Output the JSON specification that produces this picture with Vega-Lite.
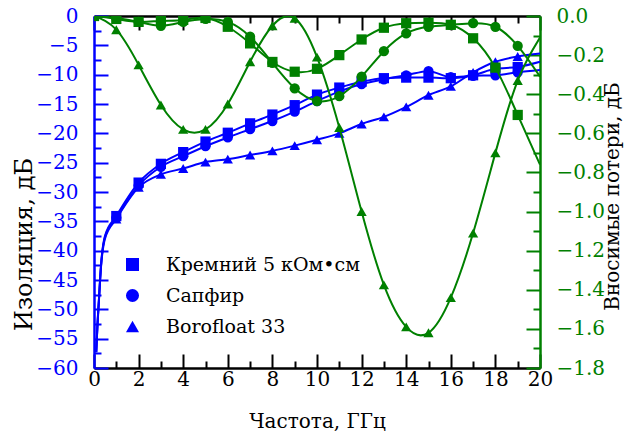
{
  "$schema": "https://vega.github.io/schema/vega-lite/v6.json",
  "width": 446,
  "height": 352,
  "autosize": {"type": "none"},
  "padding": {"left": 94, "top": 16, "right": 99, "bottom": 66},
  "config": {
    "font": "DejaVu Serif",
    "view": {"stroke": null},
    "axis": {"grid": false, "labelFont": "DejaVu Serif", "titleFont": "DejaVu Serif", "labelFontSize": 20, "titleFontSize": 20, "titleFontWeight": "normal", "domainWidth": 2.5, "tickWidth": 2}
  },
  "datasets": {
    "iso": [
      {"f": 0.1, "m": "Кремний 5 кОм•см", "v": -57.3}, {"f": 0.15, "m": "Кремний 5 кОм•см", "v": -53}, {"f": 0.22, "m": "Кремний 5 кОм•см", "v": -48.4}, {"f": 0.31, "m": "Кремний 5 кОм•см", "v": -42.7}, {"f": 0.49, "m": "Кремний 5 кОм•см", "v": -37.5},
      {"f": 1, "m": "Кремний 5 кОм•см", "v": -34.1}, {"f": 2, "m": "Кремний 5 кОм•см", "v": -28.4}, {"f": 3, "m": "Кремний 5 кОм•см", "v": -25.2}, {"f": 4, "m": "Кремний 5 кОм•см", "v": -23.2}, {"f": 5, "m": "Кремний 5 кОм•см", "v": -21.4},
      {"f": 6, "m": "Кремний 5 кОм•см", "v": -19.9}, {"f": 7, "m": "Кремний 5 кОм•см", "v": -18.3}, {"f": 8, "m": "Кремний 5 кОм•см", "v": -16.8}, {"f": 9, "m": "Кремний 5 кОм•см", "v": -15.2}, {"f": 10, "m": "Кремний 5 кОм•см", "v": -13.4},
      {"f": 11, "m": "Кремний 5 кОм•см", "v": -12.2}, {"f": 12, "m": "Кремний 5 кОм•см", "v": -11.2}, {"f": 13, "m": "Кремний 5 кОм•см", "v": -10.6}, {"f": 14, "m": "Кремний 5 кОм•см", "v": -10.5}, {"f": 15, "m": "Кремний 5 кОм•см", "v": -10.5},
      {"f": 16, "m": "Кремний 5 кОм•см", "v": -10.6}, {"f": 17, "m": "Кремний 5 кОм•см", "v": -10.1}, {"f": 18, "m": "Кремний 5 кОм•см", "v": -9.0}, {"f": 19, "m": "Кремний 5 кОм•см", "v": -8.7}, {"f": 20, "m": "Кремний 5 кОм•см", "v": -7.8},
      {"f": 0.1, "m": "Сапфир", "v": -57.3}, {"f": 0.15, "m": "Сапфир", "v": -53}, {"f": 0.22, "m": "Сапфир", "v": -48.4}, {"f": 0.31, "m": "Сапфир", "v": -42.8}, {"f": 0.49, "m": "Сапфир", "v": -37.7},
      {"f": 1, "m": "Сапфир", "v": -34.4}, {"f": 2, "m": "Сапфир", "v": -28.9}, {"f": 3, "m": "Сапфир", "v": -25.7}, {"f": 4, "m": "Сапфир", "v": -23.9}, {"f": 5, "m": "Сапфир", "v": -22.2},
      {"f": 6, "m": "Сапфир", "v": -20.7}, {"f": 7, "m": "Сапфир", "v": -19.3}, {"f": 8, "m": "Сапфир", "v": -17.9}, {"f": 9, "m": "Сапфир", "v": -16.3}, {"f": 10, "m": "Сапфир", "v": -14.5},
      {"f": 11, "m": "Сапфир", "v": -12.9}, {"f": 12, "m": "Сапфир", "v": -11.6}, {"f": 13, "m": "Сапфир", "v": -10.8}, {"f": 14, "m": "Сапфир", "v": -10.1}, {"f": 15, "m": "Сапфир", "v": -9.4},
      {"f": 16, "m": "Сапфир", "v": -10.4}, {"f": 17, "m": "Сапфир", "v": -10.2}, {"f": 18, "m": "Сапфир", "v": -10.1}, {"f": 19, "m": "Сапфир", "v": -9.6}, {"f": 20, "m": "Сапфир", "v": -9.2},
      {"f": 0.1, "m": "Borofloat 33", "v": -57.3}, {"f": 0.15, "m": "Borofloat 33", "v": -53.2}, {"f": 0.22, "m": "Borofloat 33", "v": -48.6}, {"f": 0.31, "m": "Borofloat 33", "v": -43}, {"f": 0.49, "m": "Borofloat 33", "v": -38},
      {"f": 1, "m": "Borofloat 33", "v": -34.6}, {"f": 2, "m": "Borofloat 33", "v": -29.2}, {"f": 3, "m": "Borofloat 33", "v": -27.0}, {"f": 4, "m": "Borofloat 33", "v": -26.0}, {"f": 5, "m": "Borofloat 33", "v": -24.9},
      {"f": 6, "m": "Borofloat 33", "v": -24.4}, {"f": 7, "m": "Borofloat 33", "v": -23.7}, {"f": 8, "m": "Borofloat 33", "v": -23.0}, {"f": 9, "m": "Borofloat 33", "v": -22.1}, {"f": 10, "m": "Borofloat 33", "v": -21.1},
      {"f": 11, "m": "Borofloat 33", "v": -20.0}, {"f": 12, "m": "Borofloat 33", "v": -18.4}, {"f": 13, "m": "Borofloat 33", "v": -17.2}, {"f": 14, "m": "Borofloat 33", "v": -15.5}, {"f": 15, "m": "Borofloat 33", "v": -13.5},
      {"f": 16, "m": "Borofloat 33", "v": -12.0}, {"f": 17, "m": "Borofloat 33", "v": -9.6}, {"f": 18, "m": "Borofloat 33", "v": -7.8}, {"f": 19, "m": "Borofloat 33", "v": -6.9}, {"f": 20, "m": "Borofloat 33", "v": -6.4}
    ],
    "il": [
      {"f": 0, "m": "Кремний 5 кОм•см", "v": 0}, {"f": 1, "m": "Кремний 5 кОм•см", "v": -0.015}, {"f": 2, "m": "Кремний 5 кОм•см", "v": -0.03}, {"f": 3, "m": "Кремний 5 кОм•см", "v": -0.025}, {"f": 4, "m": "Кремний 5 кОм•см", "v": -0.02},
      {"f": 5, "m": "Кремний 5 кОм•см", "v": -0.01}, {"f": 6, "m": "Кремний 5 кОм•см", "v": -0.055}, {"f": 7, "m": "Кремний 5 кОм•см", "v": -0.14}, {"f": 8, "m": "Кремний 5 кОм•см", "v": -0.235}, {"f": 9, "m": "Кремний 5 кОм•см", "v": -0.285},
      {"f": 10, "m": "Кремний 5 кОм•см", "v": -0.27}, {"f": 11, "m": "Кремний 5 кОм•см", "v": -0.2}, {"f": 12, "m": "Кремний 5 кОм•см", "v": -0.12}, {"f": 13, "m": "Кремний 5 кОм•см", "v": -0.06}, {"f": 14, "m": "Кремний 5 кОм•см", "v": -0.037},
      {"f": 15, "m": "Кремний 5 кОм•см", "v": -0.034}, {"f": 16, "m": "Кремний 5 кОм•см", "v": -0.045}, {"f": 17, "m": "Кремний 5 кОм•см", "v": -0.114}, {"f": 18, "m": "Кремний 5 кОм•см", "v": -0.264}, {"f": 19, "m": "Кремний 5 кОм•см", "v": -0.506},
      {"f": 20, "m": "Кремний 5 кОм•см", "v": -0.76},
      {"f": 0, "m": "Сапфир", "v": 0}, {"f": 1, "m": "Сапфир", "v": -0.01}, {"f": 2, "m": "Сапфир", "v": -0.03}, {"f": 3, "m": "Сапфир", "v": -0.05}, {"f": 4, "m": "Сапфир", "v": -0.03},
      {"f": 5, "m": "Сапфир", "v": -0.015}, {"f": 6, "m": "Сапфир", "v": -0.03}, {"f": 7, "m": "Сапфир", "v": -0.106}, {"f": 8, "m": "Сапфир", "v": -0.24}, {"f": 9, "m": "Сапфир", "v": -0.37},
      {"f": 10, "m": "Сапфир", "v": -0.435}, {"f": 11, "m": "Сапфир", "v": -0.41}, {"f": 12, "m": "Сапфир", "v": -0.31}, {"f": 13, "m": "Сапфир", "v": -0.18}, {"f": 14, "m": "Сапфир", "v": -0.089},
      {"f": 15, "m": "Сапфир", "v": -0.055}, {"f": 16, "m": "Сапфир", "v": -0.045}, {"f": 17, "m": "Сапфир", "v": -0.037}, {"f": 18, "m": "Сапфир", "v": -0.055}, {"f": 19, "m": "Сапфир", "v": -0.153},
      {"f": 20, "m": "Сапфир", "v": -0.31},
      {"f": 0, "m": "Borofloat 33", "v": 0}, {"f": 1, "m": "Borofloat 33", "v": -0.07}, {"f": 2, "m": "Borofloat 33", "v": -0.25}, {"f": 3, "m": "Borofloat 33", "v": -0.455}, {"f": 4, "m": "Borofloat 33", "v": -0.58},
      {"f": 5, "m": "Borofloat 33", "v": -0.58}, {"f": 6, "m": "Borofloat 33", "v": -0.45}, {"f": 7, "m": "Borofloat 33", "v": -0.234}, {"f": 8, "m": "Borofloat 33", "v": -0.05}, {"f": 9, "m": "Borofloat 33", "v": -0.012},
      {"f": 10, "m": "Borofloat 33", "v": -0.21}, {"f": 11, "m": "Borofloat 33", "v": -0.57}, {"f": 12, "m": "Borofloat 33", "v": -1.0}, {"f": 13, "m": "Borofloat 33", "v": -1.375}, {"f": 14, "m": "Borofloat 33", "v": -1.59},
      {"f": 15, "m": "Borofloat 33", "v": -1.62}, {"f": 16, "m": "Borofloat 33", "v": -1.44}, {"f": 17, "m": "Borofloat 33", "v": -1.11}, {"f": 18, "m": "Borofloat 33", "v": -0.70}, {"f": 19, "m": "Borofloat 33", "v": -0.33},
      {"f": 20, "m": "Borofloat 33", "v": -0.11}
    ]
  },
  "resolve": {"scale": {"y": "independent"}, "axis": {"x": "independent"}},
  "layer": [
    {
      "data": {"name": "iso"},
      "encoding": {
        "x": {"field": "f", "type": "quantitative", "scale": {"domain": [0, 20], "nice": false},
          "axis": {"orient": "bottom", "title": "Частота, ГГц", "values": [0,1,2,3,4,5,6,7,8,9,10,11,12,13,14,15,16,17,18,19,20],
            "labelExpr": "datum.value % 2 === 0 ? datum.label : ''", "labelPadding": 15, "labelColor": "black", "titleColor": "black",
            "titleX": 223, "titleY": 53, "titleBaseline": "middle", "titleAlign": "center",
            "tickSize": {"condition": {"test": "datum.value % 2 === 0", "value": -14}, "value": -7}, "tickColor": "black", "domainColor": "black", "labelFlush": false}},
        "y": {"field": "v", "type": "quantitative", "scale": {"domain": [-60, 0], "nice": false},
          "axis": {"orient": "left", "title": "Изоляция, дБ", "values": [-60,-57.5,-55,-52.5,-50,-47.5,-45,-42.5,-40,-37.5,-35,-32.5,-30,-27.5,-25,-22.5,-20,-17.5,-15,-12.5,-10,-7.5,-5,-2.5,0],
            "labelExpr": "datum.value % 5 === 0 ? datum.label : ''", "labelPadding": 30, "labelColor": "#0000ff", "titleColor": "black",
            "titleX": -70, "titleY": 228, "titleAngle": 270, "titleBaseline": "middle", "titleAlign": "center", "titleFontSize": 24,
            "tickSize": {"condition": {"test": "datum.value % 5 === 0", "value": -14}, "value": -7}, "tickColor": "#0000ff", "domainColor": "#0000ff", "labelFlush": false}}
      },
      "layer": [
        {"mark": {"type": "line", "interpolate": "monotone", "color": "#0000ff", "strokeWidth": 2}, "encoding": {"detail": {"field": "m"}}},
        {"transform": [{"filter": "datum.f >= 1 && datum.f < 20"}],
          "mark": {"type": "point", "filled": true, "color": "#0000ff", "size": 105, "opacity": 1},
          "encoding": {"shape": {"field": "m", "type": "nominal",
            "scale": {"domain": ["Кремний 5 кОм•см", "Сапфир", "Borofloat 33"], "range": ["square", "circle", "triangle-up"]},
            "legend": {"orient": "none", "legendX": 29, "legendY": 239, "title": null, "padding": 0, "labelFont": "DejaVu Serif", "labelFontSize": 19, "labelColor": "black", "labelOffset": 24, "symbolSize": 170, "symbolFillColor": "black", "symbolStrokeColor": "black", "symbolStrokeWidth": 0, "rowPadding": 11, "labelLimit": 300}}}}
      ]
    },
    {
      "data": {"name": "il"},
      "encoding": {
        "x": {"field": "f", "type": "quantitative", "scale": {"domain": [0, 20], "nice": false},
          "axis": {"orient": "top", "title": null, "labels": false, "values": [0,1,2,3,4,5,6,7,8,9,10,11,12,13,14,15,16,17,18,19,20],
            "tickSize": {"condition": {"test": "datum.value % 2 === 0", "value": -14}, "value": -7}, "tickColor": "black", "domainColor": "black"}},
        "y": {"field": "v", "type": "quantitative", "scale": {"domain": [-1.8, 0], "nice": false},
          "axis": {"orient": "right", "title": "Вносимые потери, дБ", "format": ".1f",
            "values": [-1.8,-1.7,-1.6,-1.5,-1.4,-1.3,-1.2,-1.1,-1.0,-0.9,-0.8,-0.7,-0.6,-0.5,-0.4,-0.3,-0.2,-0.1,0],
            "labelExpr": "round(datum.value * 10) % 2 === 0 ? datum.label : ''", "labelPadding": 30, "labelColor": "#008000", "titleColor": "black",
            "titleX": 72, "titleY": 180, "titleAngle": 270, "titleBaseline": "middle", "titleAlign": "center",
            "tickSize": {"condition": {"test": "round(datum.value * 10) % 2 === 0", "value": -14}, "value": -7}, "tickColor": "#008000", "domainColor": "#008000", "labelFlush": false}}
      },
      "layer": [
        {"mark": {"type": "line", "interpolate": "natural", "color": "#008000", "strokeWidth": 2, "clip": true}, "encoding": {"detail": {"field": "m"}}},
        {"transform": [{"filter": "datum.f < 20"}],
          "mark": {"type": "point", "filled": true, "color": "#008000", "size": 105, "opacity": 1, "clip": true},
          "encoding": {"shape": {"field": "m", "type": "nominal",
            "scale": {"domain": ["Кремний 5 кОм•см", "Сапфир", "Borofloat 33"], "range": ["square", "circle", "triangle-up"]},
            "legend": {"orient": "none", "legendX": 29, "legendY": 239, "title": null, "padding": 0, "labelFont": "DejaVu Serif", "labelFontSize": 19, "labelColor": "black", "labelOffset": 24, "symbolSize": 170, "symbolFillColor": "black", "symbolStrokeColor": "black", "symbolStrokeWidth": 0, "rowPadding": 11, "labelLimit": 300}}}}
      ]
    }
  ]
}
